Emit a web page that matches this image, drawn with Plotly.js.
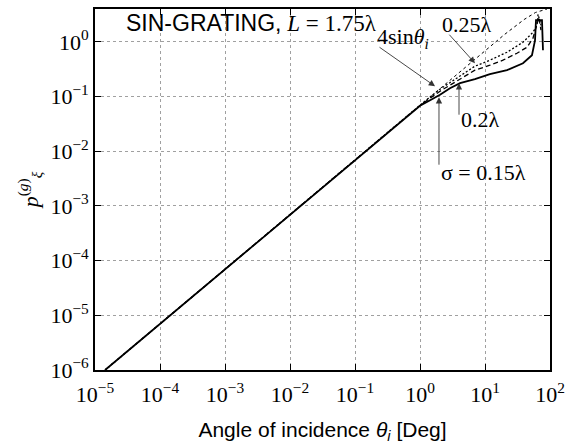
<!DOCTYPE html>
<html>
<head>
<meta charset="utf-8">
<script src="https://cdn.plot.ly/plotly-3.0.1.min.js"></script>
<style>html,body{margin:0;padding:0;background:#fff;}#chart{width:572px;height:445px;}</style>
</head>
<body>
<div id="chart"></div>
<script>
// 4 sin(theta_i) reference curve (dotted)
const theta4sin = [1.43e-5, 1e-4, 1e-3, 1e-2, 1e-1, 1, 2, 5, 10, 20, 40, 60, 90];
const p4sin     = [1.0e-6, 7.0e-6, 7.0e-5, 7.0e-4, 7.0e-3, 0.070, 0.140, 0.349, 0.695, 1.37, 2.57, 3.46, 4.0];

// sigma = 0.25 lambda
const theta025 = [1.43e-5, 1e-3, 0.1, 0.5, 1, 2.03, 4.13, 7.0, 11.9, 21.8, 38.4, 54.7, 63.1, 65.5, 72.6];
const p025     = [1.0e-6, 7.0e-5, 7.0e-3, 0.0349, 0.0695, 0.1365, 0.236, 0.36, 0.463, 0.648, 0.987, 1.50, 2.02, 3.2, 2.0];

// sigma = 0.2 lambda
const theta02 = [1.43e-5, 1e-3, 0.1, 0.5, 1, 2.03, 4.13, 7.0, 11.9, 18.9, 31.0, 44.4, 54.7, 58.8, 63.1, 67.6, 72.6];
const p02     = [1.0e-6, 7.0e-5, 7.0e-3, 0.0349, 0.069, 0.1256, 0.208, 0.304, 0.375, 0.463, 0.621, 0.80, 1.17, 1.64, 2.29, 2.83, 1.64];

// sigma = 0.15 lambda
const theta015 = [1.43e-5, 1e-3, 0.1, 0.5, 1, 1.43, 2.03, 2.89, 4.13, 7.0, 11.9, 21.8, 38.4, 52.8, 58.8, 60.9, 75.3, 78.0];
const p015     = [1.0e-6, 7.0e-5, 7.0e-3, 0.0349, 0.068, 0.0859, 0.108, 0.1425, 0.176, 0.208, 0.257, 0.304, 0.408, 0.571, 1.07, 2.49, 2.49, 0.705];

const xTickVals = [1e-5, 1e-4, 1e-3, 1e-2, 1e-1, 1, 10, 100];
const xTickText = ['10<sup>\u22125</sup>', '10<sup>\u22124</sup>', '10<sup>\u22123</sup>', '10<sup>\u22122</sup>', '10<sup>\u22121</sup>', '10<sup>0</sup>', '10<sup>1</sup>', '10<sup>2</sup>'];
const yTickVals = [1e-6, 1e-5, 1e-4, 1e-3, 1e-2, 1e-1, 1];
const yTickText = ['10<sup>\u22126</sup>', '10<sup>\u22125</sup>', '10<sup>\u22124</sup>', '10<sup>\u22123</sup>', '10<sup>\u22122</sup>', '10<sup>\u22121</sup>', '10<sup>0</sup>'];

const traces = [
  {x: theta4sin, y: p4sin, mode: 'lines', line: {color: '#000', width: 1, dash: 'dot'}, name: '4sinθ'},
  {x: theta025, y: p025, mode: 'lines', line: {color: '#000', width: 1.3, dash: '2px,2px'}, name: '0.25λ'},
  {x: theta02, y: p02, mode: 'lines', line: {color: '#000', width: 1.3, dash: '5px,3px'}, name: '0.2λ'},
  {x: theta015, y: p015, mode: 'lines', line: {color: '#000', width: 1.8}, name: '0.15λ'}
];

const serif = 'Liberation Serif, Times New Roman, serif';
const sans = 'Liberation Sans, Arial, sans-serif';

const axisCommon = {
  type: 'log', showline: true, linecolor: '#000', linewidth: 1.8, mirror: 'ticks',
  ticks: 'inside', ticklen: 6, tickwidth: 1, tickcolor: '#000',
  showgrid: true, gridcolor: '#a0a0a0', gridwidth: 1, griddash: 'dot',
  zeroline: false, tickfont: {family: serif, size: 22, color: '#000'}
};

const arrowStyle = {showarrow: true, arrowhead: 2, arrowsize: 1.4, arrowwidth: 0.9, arrowcolor: '#333', text: '', xref: 'x', yref: 'y', axref: 'pixel', ayref: 'pixel', standoff: 0};
const textStyle = {showarrow: false, xref: 'paper', yref: 'paper', xanchor: 'center', yanchor: 'middle', font: {family: serif, size: 22, color: '#000'}};

const layout = {
  width: 572, height: 445,
  margin: {l: 95, r: 22, t: 9, b: 75},
  paper_bgcolor: '#fff', plot_bgcolor: '#fff',
  showlegend: false,
  xaxis: Object.assign({}, axisCommon, {
    range: [-5, 2], tickvals: xTickVals, ticktext: xTickText, ticklabelstandoff: 4,
    title: {text: 'Angle of incidence <i>θ<sub>i</sub></i> [Deg]', font: {family: sans, size: 21, color: '#000'}, standoff: 16}
  }),
  yaxis: Object.assign({}, axisCommon, {
    range: [-6, 0.602], tickvals: yTickVals, ticktext: yTickText,
    title: {text: '<i>p</i><sup>(<i>g</i>)</sup><sub><i>ξ</i></sub>', font: {family: serif, size: 22, color: '#000'}, standoff: 6}
  }),
  annotations: [
    Object.assign({}, textStyle, {x: 0.345, y: 0.962, text: '<span style="font-family:Liberation Sans, Arial, sans-serif;font-size:23px">SIN-GRATING,</span> <i>L</i> = 1.75λ', font: {family: serif, size: 23, color: '#000'}}),
    Object.assign({}, arrowStyle, {x: 0.231, y: -0.810, ax: -57, ay: -40}),
    Object.assign({}, arrowStyle, {x: 0.846, y: -0.389, ax: -27, ay: -30}),
    Object.assign({}, arrowStyle, {x: 0.600, y: -0.755, ax: 0, ay: 33}),
    Object.assign({}, arrowStyle, {x: 0.292, y: -1.011, ax: 0, ay: 69}),
    Object.assign({}, textStyle, {x: 0.677, y: 0.920, text: '4sin<i>θ<sub>i</sub></i>'}),
    Object.assign({}, textStyle, {x: 0.818, y: 0.956, text: '0.25λ'}),
    Object.assign({}, textStyle, {x: 0.848, y: 0.693, text: '0.2λ'}),
    Object.assign({}, textStyle, {x: 0.853, y: 0.548, text: 'σ = 0.15λ'})
  ]
};

Plotly.newPlot('chart', traces, layout, {staticPlot: true, displayModeBar: false});
</script>
</body>
</html>
